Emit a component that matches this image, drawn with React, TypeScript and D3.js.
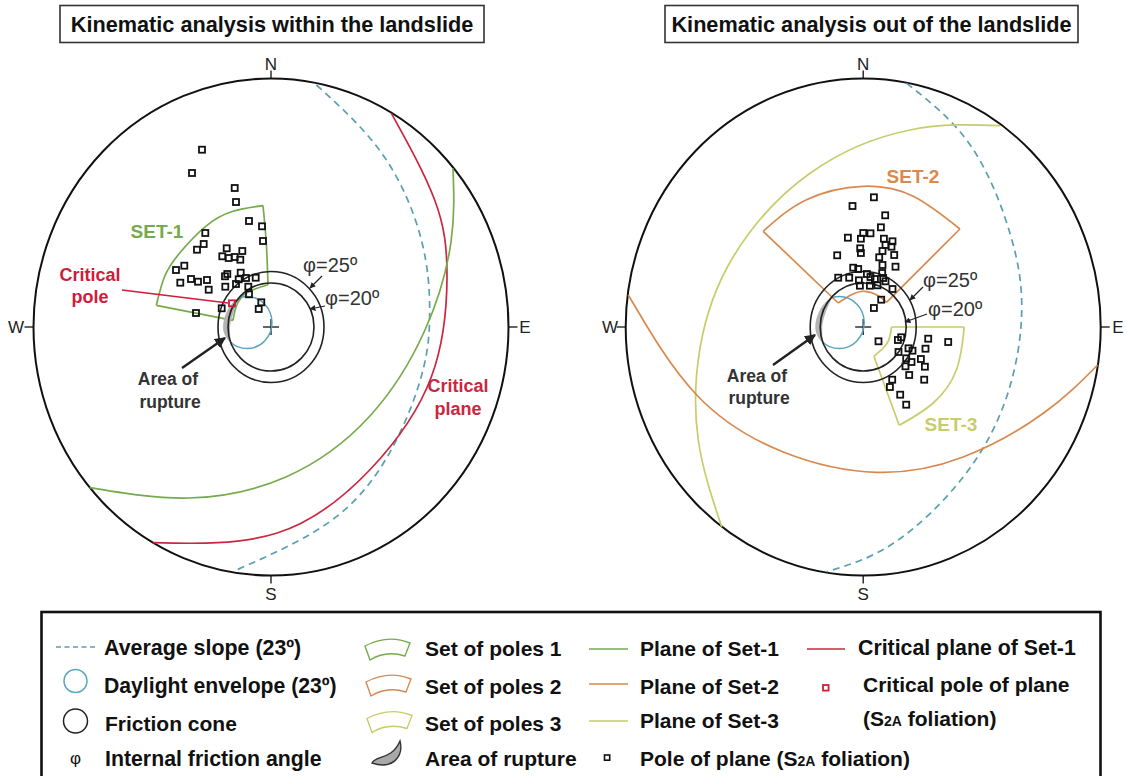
import { useEffect, useRef } from 'react';
import * as d3 from 'd3';

type Pt = [number, number];

// All stereonet values are east/north offsets from the centre of the net
const NET_RX = 237.5;
const NET_RY = 248.5;
const NET_CY = 327;

const polesLeft: Pt[] = [
  [-69, 177.3], [-79, 154], [-36.3, 139], [-35, 125], [-22, 106], [-9, 100.7], [-8, 86],
  [-65.7, 94], [-67.3, 83], [-74, 77.3], [-44.3, 78.7], [-28.7, 76], [-48.7, 70.7], [-42.3, 69],
  [-36.3, 70], [-30.7, 67.3], [-86.7, 61.3], [-95, 57], [-90.7, 44.3], [-80, 48], [-73, 45.3],
  [-64, 47], [-62.3, 37.3], [-30.3, 54.3], [-43.7, 53], [-46, 50.7], [-45.7, 40.3], [-35, 43],
  [-32.3, 47.7], [-25, 49], [-15.3, 49.3], [-22.7, 40.3], [-22, 32.7], [-9.7, 24.7], [-12.3, 18],
  [-49.3, 18.7], [-75, 14],
];
const criticalPole: Pt = [-39, 23.7];

const polesRight: Pt[] = [
  [10.7, 129.7], [-10.7, 121], [22, 111.7], [17.7, 99.7], [7.3, 93.7], [0, 94], [-2.3, 88.3],
  [-15.3, 89.3], [20.7, 88.3], [29.3, 85.7], [22.3, 82], [28.3, 80.3], [-3, 78.7], [-2.3, 74],
  [19.3, 76], [-26, 71.7], [31, 72], [16, 69.7], [19.3, 62], [32.3, 60.3], [-10, 59.3], [-5, 58],
  [19, 54], [3.7, 53], [-25, 49.3], [-14, 49.3], [-4.3, 46.7], [7.3, 50], [11.7, 48], [20, 49],
  [22.3, 45.7], [-3.3, 41.3], [6.7, 41.3], [14.3, 41.7], [29.3, 38], [18, 27.3], [10.7, 19],
  [15.3, -14.3], [38, -10.3], [34.7, -13], [65, -11.7], [85, -15], [62.3, -21.7], [45.3, -21.3],
  [49.3, -23.7], [35.3, -25], [57.7, -32], [43, -31.3], [48.3, -35], [42.3, -39.3], [61.7, -39.7],
  [46, -48], [61, -52.7], [29, -52.7], [26.7, -60], [37, -67.7], [43, -77.7],
];

const slopeLeft: Pt[] = [
  [45.4, 242], [112, 172], [150.4, 87], [158.7, 15], [152, -43], [123.7, -116.3], [65.4, -189.7], [-34.6, -243],
];
const criticalPlane: Pt[] = [
  [120.4, 213.7], [163.7, 127], [176, 50.3], [160.4, -49.7], [98.7, -143], [5.4, -206.3], [-118, -215.7],
];
const planeSet1: Pt[] = [
  [182, 158.7], [180, 85], [154, -3], [98, -90], [15.4, -149.7], [-82, -171], [-181.3, -160.7],
];
const slopeRight: Pt[] = [
  [43.5, 243.7], [107, 182], [146.8, 93.7], [158.5, 15], [143.5, -69.7], [100, -150], [30.1, -216.3], [-36.5, -244.7],
];
const planeSet3: Pt[] = [
  [136.8, 201.3], [46.8, 197], [-53.2, 153.7], [-129.9, 70.3], [-163, -20], [-164.9, -113], [-141.5, -199.7],
];
const planeSet2: Pt[] = [
  [-234.9, 32], [-166.5, -68], [-80, -125], [13.5, -145.3], [100, -130], [180.1, -86.3], [234.5, -38],
];

// Pole sets: outer arc, side, inner arc, side
const set1Edges: Pt[][] = [
  [[-114.7, 21.7], [-106.3, 50.7], [-91.3, 74], [-65.3, 100.7], [-38, 115.7], [-8, 121.3]],
  [[-8, 121.3], [-4.7, 84], [-3, 42.3]],
  [[-3, 42.3], [-24.7, 34], [-34.7, 20.7], [-38, 6.7]],
  [[-38, 6.7], [-114.7, 21.7]],
];
const set2Edges: Pt[][] = [
  [[-100, 95.7], [-56.7, 127.3], [0, 140.7], [50, 130.7], [96.7, 98]],
  [[96.7, 98], [23.3, 24.7]],
  [[23.3, 24.7], [15, 31.3], [1.7, 35.7], [-11.7, 32.3], [-25, 24]],
  [[-25, 24], [-100, 95.7]],
];
const set3Edges: Pt[][] = [
  [[28.3, 0], [101, 0]],
  [[101, 0], [93.3, -42.7], [70, -76], [36, -98.3]],
  [[36, -98.3], [10.7, -29.3]],
  [[10.7, -29.3], [20, -21], [25.7, -12.7], [28.3, 0]],
];
const ruptureArea: Pt[] = [
  [-32, 29], [-41, 21], [-47.5, 5], [-47, -6], [-41, -15], [-41, -4], [-40.5, 4], [-37, 16],
];

const frictionRadii: Pt[] = [[53, 55.5], [43, 44]]; // phi 25, phi 20
const daylight = { dx: -24, dy: 4.4, rx: 25, ry: 26 };

const BLACK = '#111';
const DASH_BLUE = '#5b9fb0';
const ENVELOPE = '#5aa5bd';
const GREEN = '#76ab4b';
const RED = '#c8283f';
const ORANGE = '#d9894d';
const YELLOW = '#c6cd6a';
const FONT = '"Liberation Sans", Arial, sans-serif';

export default function App() {
  const svgRef = useRef<SVGSVGElement>(null);

  useEffect(() => {
    if (!svgRef.current) return;
    const svg = d3.select(svgRef.current);
    svg.selectAll('*').remove();

    const defs = svg.append('defs');
    const addArrow = (id: string, size: number) => {
      defs.append('marker')
        .attr('id', id)
        .attr('viewBox', '0 0 10 10')
        .attr('refX', 9)
        .attr('refY', 5)
        .attr('markerUnits', 'userSpaceOnUse')
        .attr('markerWidth', size)
        .attr('markerHeight', size)
        .attr('orient', 'auto')
        .append('path')
        .attr('d', 'M0,0 L10,5 L0,10 Z')
        .attr('fill', '#222');
    };
    addArrow('head-big', 11);
    addArrow('head-small', 6);

    const text = (
      str: string, x: number, y: number, size: number,
      opts: { fill?: string; anchor?: string; bold?: boolean } = {},
    ) => svg.append('text')
      .attr('x', x)
      .attr('y', y)
      .attr('font-family', FONT)
      .attr('font-size', size)
      .attr('font-weight', opts.bold ? 'bold' : 'normal')
      .attr('text-anchor', opts.anchor ?? 'start')
      .attr('fill', opts.fill ?? BLACK)
      .text(str);

    const drawNet = (cx: number) => {
      const x = d3.scaleLinear().domain([-NET_RX, NET_RX]).range([cx - NET_RX, cx + NET_RX]);
      const y = d3.scaleLinear().domain([-NET_RY, NET_RY]).range([NET_CY + NET_RY, NET_CY - NET_RY]);
      const g = svg.append('g');
      const curve = d3.line<Pt>().x((d) => x(d[0])).y((d) => y(d[1])).curve(d3.curveNatural);

      g.append('ellipse')
        .attr('cx', x(0))
        .attr('cy', y(0))
        .attr('rx', NET_RX)
        .attr('ry', NET_RY)
        .attr('fill', 'none')
        .attr('stroke', BLACK)
        .attr('stroke-width', 2);

      // Compass ticks
      const ticks: [number, number, number, number][] = [
        [0, NET_RY, 0, NET_RY + 8],
        [0, -NET_RY, 0, -NET_RY - 8],
        [NET_RX, 0, NET_RX + 9, 0],
        [-NET_RX, 0, -NET_RX - 9, 0],
      ];
      ticks.forEach((t) => {
        g.append('line')
          .attr('x1', x(t[0])).attr('y1', y(t[1]))
          .attr('x2', x(t[2])).attr('y2', y(t[3]))
          .attr('stroke', BLACK)
          .attr('stroke-width', 1.3);
      });

      // Centre cross
      [[-8, 0, 8, 0], [0, -8, 0, 8]].forEach((t) => {
        g.append('line')
          .attr('x1', x(t[0])).attr('y1', y(t[1]))
          .attr('x2', x(t[2])).attr('y2', y(t[3]))
          .attr('stroke', BLACK)
          .attr('stroke-width', 1.3);
      });

      return { x, y, g, curve };
    };

    const drawCones = (net: ReturnType<typeof drawNet>, clipId: string) => {
      const { x, y, g } = net;
      // The daylight envelope only shows inside the phi=20 cone
      defs.append('clipPath')
        .attr('id', clipId)
        .append('ellipse')
        .attr('cx', x(0))
        .attr('cy', y(0))
        .attr('rx', frictionRadii[1][0])
        .attr('ry', frictionRadii[1][1]);
      g.append('ellipse')
        .attr('cx', x(daylight.dx))
        .attr('cy', y(daylight.dy))
        .attr('rx', daylight.rx)
        .attr('ry', daylight.ry)
        .attr('clip-path', `url(#${clipId})`)
        .attr('fill', 'none')
        .attr('stroke', ENVELOPE)
        .attr('stroke-width', 1.5);
      g.append('path')
        .attr('d', d3.line<Pt>().x((d) => x(d[0])).y((d) => y(d[1])).curve(d3.curveCatmullRomClosed)(ruptureArea))
        .attr('fill', '#b4b4b4')
        .attr('stroke', 'none');
      frictionRadii.forEach(([rx, ry]) => {
        g.append('ellipse')
          .attr('cx', x(0))
          .attr('cy', y(0))
          .attr('rx', rx)
          .attr('ry', ry)
          .attr('fill', 'none')
          .attr('stroke', '#222')
          .attr('stroke-width', 1.6);
      });
    };

    const drawSet = (net: ReturnType<typeof drawNet>, edges: Pt[][], color: string) => {
      net.g.append('path')
        .attr('d', edges.map((e) => net.curve(e)).join(' '))
        .attr('fill', 'none')
        .attr('stroke', color)
        .attr('stroke-width', 1.7)
        .attr('stroke-linejoin', 'miter');
    };

    const drawPlane = (net: ReturnType<typeof drawNet>, pts: Pt[], color: string, dashed = false) => {
      net.g.append('path')
        .attr('d', net.curve(pts))
        .attr('fill', 'none')
        .attr('stroke', color)
        .attr('stroke-width', 1.7)
        .attr('stroke-dasharray', dashed ? '7 5' : null);
    };

    const drawPoles = (net: ReturnType<typeof drawNet>, pts: Pt[], color = BLACK) => {
      net.g.selectAll(null)
        .data(pts)
        .enter()
        .append('rect')
        .attr('x', (d) => net.x(d[0]) - 3)
        .attr('y', (d) => net.y(d[1]) - 3)
        .attr('width', 6)
        .attr('height', 6)
        .attr('fill', 'none')
        .attr('stroke', color)
        .attr('stroke-width', 1.8);
    };

    const arrow = (x1: number, y1: number, x2: number, y2: number, big: boolean) => {
      svg.append('line')
        .attr('x1', x1).attr('y1', y1)
        .attr('x2', x2).attr('y2', y2)
        .attr('stroke', '#222')
        .attr('stroke-width', big ? 2.4 : 1.2)
        .attr('marker-end', big ? 'url(#head-big)' : 'url(#head-small)');
    };

    // ---- Left net ----
    const left = drawNet(271);
    drawSet(left, set1Edges, GREEN);
    drawCones(left, 'cone-left');
    drawPlane(left, slopeLeft, DASH_BLUE, true);
    drawPlane(left, criticalPlane, RED);
    drawPlane(left, planeSet1, GREEN);
    drawPoles(left, polesLeft);
    left.g.append('line')
      .attr('x1', left.x(-149)).attr('y1', left.y(37))
      .attr('x2', left.x(-43)).attr('y2', left.y(24))
      .attr('stroke', '#d01c3a')
      .attr('stroke-width', 1.7);
    drawPoles(left, [criticalPole], '#d01c3a');

    // ---- Right net ----
    const right = drawNet(863.2);
    drawSet(right, set2Edges, ORANGE);
    drawSet(right, set3Edges, YELLOW);
    drawCones(right, 'cone-right');
    drawPlane(right, slopeRight, DASH_BLUE, true);
    drawPlane(right, planeSet3, YELLOW);
    drawPlane(right, planeSet2, ORANGE);
    drawPoles(right, polesRight);

    // ---- Titles ----
    const titles: [string, number, number][] = [
      ['Kinematic analysis within the landslide', 60, 424],
      ['Kinematic analysis out of the landslide', 665, 413],
    ];
    titles.forEach(([t, x0, w]) => {
      svg.append('rect')
        .attr('x', x0).attr('y', 5.5)
        .attr('width', w).attr('height', 37)
        .attr('fill', 'none')
        .attr('stroke', '#333')
        .attr('stroke-width', 1.6);
      text(t, x0 + w / 2, 32, 21.7, { anchor: 'middle', bold: true });
    });

    // ---- Compass letters ----
    [271, 863.2].forEach((cx) => {
      text('N', cx, 70, 17, { anchor: 'middle', fill: '#222' });
      text('S', cx, 600, 17, { anchor: 'middle', fill: '#222' });
    });
    text('W', 16, 333, 17, { anchor: 'middle', fill: '#222' });
    text('E', 525, 333, 17, { anchor: 'middle', fill: '#222' });
    text('W', 610, 333, 17, { anchor: 'middle', fill: '#222' });
    text('E', 1118, 333, 17, { anchor: 'middle', fill: '#222' });

    // ---- Annotations ----
    text('SET-1', 157, 238, 19, { anchor: 'middle', bold: true, fill: GREEN });
    text('SET-2', 913, 183, 19, { anchor: 'middle', bold: true, fill: ORANGE });
    text('SET-3', 951, 431, 19, { anchor: 'middle', bold: true, fill: YELLOW });
    text('Critical', 90, 281, 18, { anchor: 'middle', bold: true, fill: '#d01c3a' });
    text('pole', 90, 303, 18, { anchor: 'middle', bold: true, fill: '#d01c3a' });
    text('Critical', 458, 392, 18, { anchor: 'middle', bold: true, fill: RED });
    text('plane', 458, 415, 18, { anchor: 'middle', bold: true, fill: RED });
    text('Area of', 168, 385, 17.5, { anchor: 'middle', bold: true, fill: '#333' });
    text('rupture', 170, 408, 17.5, { anchor: 'middle', bold: true, fill: '#333' });
    text('Area of', 757, 382, 17.5, { anchor: 'middle', bold: true, fill: '#333' });
    text('rupture', 759, 404, 17.5, { anchor: 'middle', bold: true, fill: '#333' });
    arrow(182, 368, 225, 338, true);
    arrow(773, 365, 815, 335, true);

    text('φ=25º', 303, 272, 20, { fill: '#333' });
    text('φ=20º', 325, 305, 20, { fill: '#333' });
    text('φ=25º', 923, 287, 20, { fill: '#333' });
    text('φ=20º', 928, 316, 20, { fill: '#333' });
    arrow(322, 276, 310, 288, false);
    arrow(325, 306, 310, 309, false);
    arrow(923, 287, 910, 300, false);
    arrow(927, 314, 905, 322, false);

    // ---- Legend ----
    svg.append('rect')
      .attr('x', 41.5).attr('y', 612)
      .attr('width', 1059).attr('height', 180)
      .attr('fill', 'none')
      .attr('stroke', BLACK)
      .attr('stroke-width', 2.6);

    const legendText = (t: string, x: number, y: number, size = 21) =>
      text(t, x, y, size, { bold: true });

    legendText('Average slope (23º)', 104, 655, 21.4);
    legendText('Daylight envelope (23º)', 104, 693, 21.2);
    legendText('Friction cone', 105, 731);
    legendText('Internal friction angle', 105, 766, 21.3);
    text('φ', 75.5, 764, 17, { anchor: 'middle' });

    svg.append('line')
      .attr('x1', 56).attr('y1', 647).attr('x2', 95).attr('y2', 647)
      .attr('stroke', DASH_BLUE).attr('stroke-width', 1.4).attr('stroke-dasharray', '5 3.5');
    svg.append('circle')
      .attr('cx', 75.5).attr('cy', 681).attr('r', 11.5)
      .attr('fill', 'none').attr('stroke', ENVELOPE).attr('stroke-width', 1.5);
    svg.append('circle')
      .attr('cx', 75.5).attr('cy', 721).attr('r', 12)
      .attr('fill', 'none').attr('stroke', '#222').attr('stroke-width', 1.5);

    const setGlyphs: [string, number, string][] = [
      ['Set of poles 1', 0, GREEN],
      ['Set of poles 2', 36, ORANGE],
      ['Set of poles 3', 72.5, YELLOW],
    ];
    setGlyphs.forEach(([t, dy, color], i) => {
      svg.append('path')
        .attr('d', 'M365,646 Q388,634 410,643 L405,656 Q386,650 370,660 Z')
        .attr('transform', `translate(${i === 0 ? 0 : i}, ${dy})`)
        .attr('fill', 'none')
        .attr('stroke', color)
        .attr('stroke-width', 1.4);
      legendText(t, 425, 656 + (i === 1 ? 38 : i === 2 ? 74.5 : 0));
    });
    svg.append('path')
      .attr('d', 'M400,741 C404,757 392,770 372,763 C376,755 392,760 400,741 Z')
      .attr('fill', '#a9a9a9')
      .attr('stroke', '#333')
      .attr('stroke-width', 1.4);
    legendText('Area of rupture', 425, 766);

    const planeGlyphs: [string, number, number, string][] = [
      ['Plane of Set-1', 649, 656, GREEN],
      ['Plane of Set-2', 684, 694, ORANGE],
      ['Plane of Set-3', 721, 728, YELLOW],
    ];
    planeGlyphs.forEach(([t, ly, ty, color]) => {
      svg.append('line')
        .attr('x1', 589).attr('y1', ly).attr('x2', 628).attr('y2', ly)
        .attr('stroke', color).attr('stroke-width', 1.6);
      legendText(t, 640, ty);
    });
    svg.append('line')
      .attr('x1', 807).attr('y1', 649).attr('x2', 845).attr('y2', 649)
      .attr('stroke', RED).attr('stroke-width', 1.6);
    legendText('Critical plane of Set-1', 858, 655, 21.3);

    svg.append('rect')
      .attr('x', 823).attr('y', 685).attr('width', 5.6).attr('height', 5.6)
      .attr('fill', 'none').attr('stroke', '#d01c3a').attr('stroke-width', 1.8);
    legendText('Critical pole of plane', 863, 692);

    const foliation = (x: number, y: number, prefix: string) => {
      const t = legendText(prefix, x, y);
      t.append('tspan').attr('font-size', 14).text('2A');
      t.append('tspan').text(' foliation)');
    };
    foliation(863, 726, '(S');

    svg.append('rect')
      .attr('x', 604.5).attr('y', 755).attr('width', 5.2).attr('height', 5.2)
      .attr('fill', 'none').attr('stroke', BLACK).attr('stroke-width', 1.6);
    foliation(640, 766, 'Pole of plane (S');
  }, []);

  return (
    <svg
      ref={svgRef}
      width={1126}
      height={776}
      style={{ position: 'fixed', left: 0, top: 0, background: '#fff' }}
    />
  );
}
